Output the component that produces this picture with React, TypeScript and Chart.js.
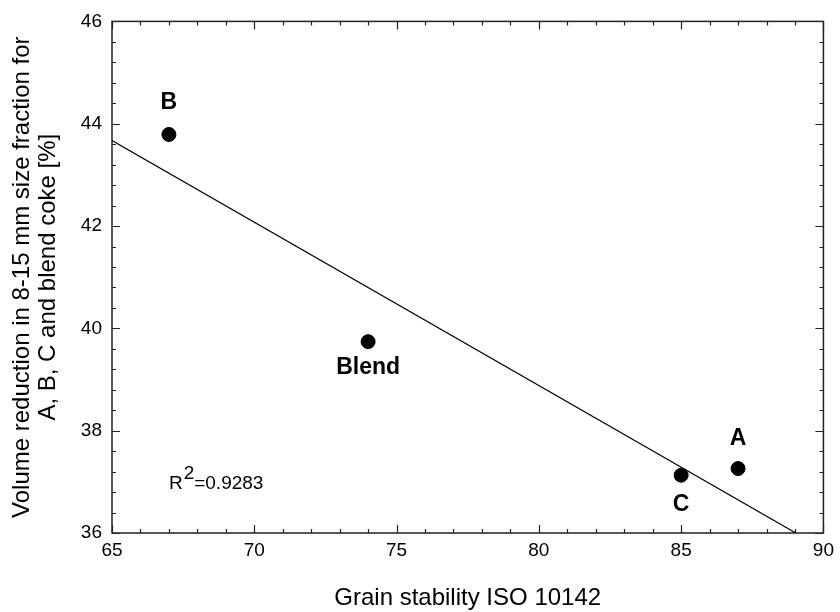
import { useEffect, useRef } from 'react';
import { Chart, registerables } from 'chart.js';

Chart.register(...registerables);

const FONT = '"Liberation Sans", Arial, Helvetica, sans-serif';

// ---- data ----
const cokeNames = ['A', 'B', 'C', 'Blend'];
const grainStability = [87, 67, 85, 74];
const volumeReduction = [37.26, 43.79, 37.13, 39.74];
const fitLineX = [65, 89.03];
const fitLineY = [43.67, 36];
const rSquaredValue = '0.9283';
const rSquaredAnchorX = [67];
const rSquaredAnchorY = [36.86];
const xTitle = 'Grain stability ISO 10142';
const yTitle = ['Volume reduction in 8-15 mm size fraction for', 'A, B, C and blend coke [%]'];

// ---- styles (not data) ----
const labelSide = ['above', 'above', 'below', 'below'];
const labelOffset = [30, 32, 29, 26];

const decorPlugin = {
  id: 'decor',
  beforeDatasetsDraw(chart: any) {
    const { ctx, chartArea: a, scales } = chart;
    const xs = scales.x;
    const ys = scales.y;
    ctx.save();
    ctx.strokeStyle = '#222';
    ctx.lineWidth = 1.5;
    ctx.strokeRect(a.left, a.top, a.right - a.left, a.bottom - a.top);
    ctx.lineWidth = 1.2;
    ctx.beginPath();
    for (let v = xs.min; v <= xs.max + 1e-9; v += 1) {
      const major = Math.abs(v % 5) < 1e-6;
      const len = major ? 8 : 4;
      const px = Math.round(xs.getPixelForValue(v)) + 0.5;
      ctx.moveTo(px, a.bottom);
      ctx.lineTo(px, a.bottom - len);
      ctx.moveTo(px, a.top);
      ctx.lineTo(px, a.top + len);
    }
    const steps = Math.round((ys.max - ys.min) / 0.4);
    for (let i = 0; i <= steps; i++) {
      const v = ys.min + i * 0.4;
      const major = i % 5 === 0;
      const len = major ? 8 : 4;
      const py = Math.round(ys.getPixelForValue(v)) + 0.5;
      ctx.moveTo(a.left, py);
      ctx.lineTo(a.left + len, py);
      ctx.moveTo(a.right, py);
      ctx.lineTo(a.right - len, py);
    }
    ctx.stroke();
    ctx.restore();
  },
  afterDatasetsDraw(chart: any) {
    const { ctx, scales } = chart;
    const xs = scales.x;
    const ys = scales.y;
    ctx.save();
    ctx.fillStyle = '#000';
    ctx.font = `bold 23px ${FONT}`;
    ctx.textAlign = 'center';
    ctx.textBaseline = 'middle';
    cokeNames.forEach((name, i) => {
      const px = xs.getPixelForValue(grainStability[i]);
      const py = ys.getPixelForValue(volumeReduction[i]);
      const dy = labelSide[i] === 'above' ? -labelOffset[i] : labelOffset[i];
      ctx.fillText(name, px, py + dy);
    });
    // R^2 annotation
    ctx.font = `19px ${FONT}`;
    ctx.textAlign = 'left';
    ctx.textBaseline = 'alphabetic';
    const rx = xs.getPixelForValue(rSquaredAnchorX[0]);
    const ry = ys.getPixelForValue(rSquaredAnchorY[0]);
    ctx.fillText('R', rx, ry);
    const rw = ctx.measureText('R').width;
    ctx.fillText('2', rx + rw + 1, ry - 10);
    const tw = ctx.measureText('2').width;
    ctx.fillText('=' + rSquaredValue, rx + rw + tw + 1, ry);
    ctx.restore();
  },
};

export default function App() {
  const canvasRef = useRef<HTMLCanvasElement | null>(null);

  useEffect(() => {
    const canvas = canvasRef.current;
    if (!canvas) return;
    Chart.defaults.font.family = FONT;
    const chart = new Chart(canvas, {
      type: 'scatter',
      data: {
        datasets: [
          {
            label: 'fit',
            data: fitLineX.map((x, i) => ({ x, y: fitLineY[i] })),
            showLine: true,
            borderColor: '#000',
            borderWidth: 1.2,
            pointRadius: 0,
            pointHoverRadius: 0,
            fill: false,
          },
          {
            label: 'coke',
            data: grainStability.map((x, i) => ({ x, y: volumeReduction[i] })),
            backgroundColor: '#000',
            borderColor: '#000',
            pointRadius: 7,
            pointHoverRadius: 7,
          },
        ],
      },
      options: {
        animation: false,
        responsive: false,
        events: [],
        layout: { padding: { left: 0, top: 19, right: 14, bottom: 0 } },
        plugins: { legend: { display: false }, tooltip: { enabled: false } },
        scales: {
          x: {
            type: 'linear',
            min: 65,
            max: 90,
            ticks: { stepSize: 5, color: '#000', font: { size: 19, family: FONT }, padding: 6, maxRotation: 0 },
            grid: { display: false, drawTicks: false },
            border: { display: false },
            title: {
              display: true,
              text: xTitle,
              color: '#000',
              font: { size: 24, family: FONT, lineHeight: 1.1 },
              padding: 0,
            },
            afterFit: (s: any) => {
              s.height = 79;
            },
          },
          y: {
            type: 'linear',
            min: 36,
            max: 46,
            ticks: { stepSize: 2, color: '#000', font: { size: 19, family: FONT }, padding: 10 },
            grid: { display: false, drawTicks: false },
            border: { display: false },
            title: {
              display: true,
              text: yTitle,
              color: '#000',
              font: { size: 24, family: FONT, lineHeight: 1.1 },
              padding: { top: 9, bottom: 0 },
            },
            afterFit: (s: any) => {
              s.width = 112;
            },
          },
        },
      },
      plugins: [decorPlugin],
    });
    return () => chart.destroy();
  }, []);

  return (
    <div style={{ position: 'absolute', left: 0, top: 0, width: 840, height: 612, background: '#fff' }}>
      <canvas ref={canvasRef} width={840} height={612} style={{ display: 'block' }} />
    </div>
  );
}
